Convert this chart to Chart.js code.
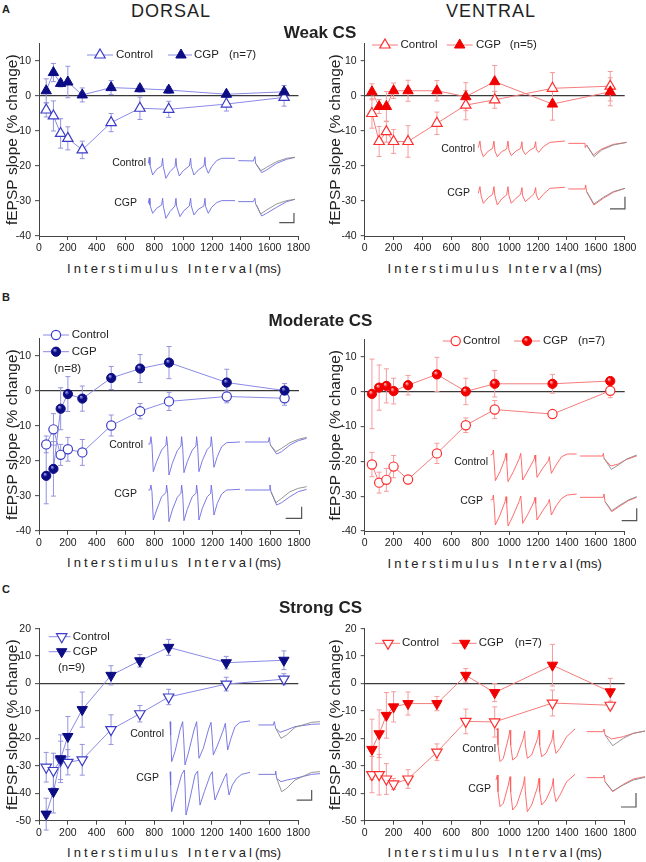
<!DOCTYPE html>
<html><head><meta charset="utf-8">
<script src="https://cdn.jsdelivr.net/npm/chart.js@4.4.1/dist/chart.umd.min.js"></script>
<style>
body{margin:0;background:#fff;width:646px;height:862px;position:relative;overflow:hidden;font-family:'Liberation Sans',Arial,sans-serif;color:#222}
canvas{position:absolute}
.t{position:absolute;white-space:nowrap;line-height:1}
.c{transform:translate(-50%,-50%)}
.r{transform:translate(-100%,-50%)}
.l{transform:translate(0,-50%)}
.ls{letter-spacing:3.1px}
</style></head><body>
<script>
// interstimulus intervals (ms) and axis ticks
const isi=[50,100,150,200,300,500,700,900,1300,1700];
const xTicks=[0,200,400,600,800,1000,1200,1400,1600,1800];
const yTicksAB=[-40,-30,-20,-10,0,10];
const yTicksC=[-50,-40,-30,-20,-10,0,10,20];

// Weak CS
const wdCtl=[-4.0,-5.7,-10.7,-12.1,-15.4,-7.6,-3.5,-3.8,-2.3,-0.4];
const wdCtlErr=[2.0,4.3,4.2,3.3,2.5,2.6,3.2,2.3,2.0,2.5];
const wdCgp=[1.5,6.7,3.6,4.0,0.3,2.4,2.1,1.7,0.5,1.2];
const wdCgpErr=[3.4,2.6,1.0,4.5,2.0,2.0,1.0,1.0,0.7,1.8];
const wvCtl=[-5.0,-13.0,-10.2,-13.0,-13.0,-7.8,-2.6,-1.1,2.2,2.8];
const wvCtlErr=[4.2,4.3,3.0,3.4,4.5,3.2,4.2,2.4,4.5,4.2];
const wvCgp=[1.2,-3.0,-3.0,1.5,1.5,1.5,-0.2,4.1,-2.3,1.2];
const wvCgpErr=[2.3,2.0,4.3,2.2,3.0,2.9,4.0,4.6,4.6,4.0];

// Moderate CS
const mdCtl=[-15.3,-11.0,-18.3,-16.7,-17.6,-9.9,-5.8,-3.0,-1.6,-2.1];
const mdCtlErr=[2.4,4.5,3.0,3.4,3.7,3.0,2.2,2.6,1.8,2.0];
const mdCgp=[-24.3,-22.3,-5.1,-0.9,-2.2,3.7,6.4,8.1,2.4,0.1];
const mdCgpErr=[8.0,7.8,6.0,5.0,3.6,3.3,4.0,4.6,3.8,2.0];
const mvCtl=[-20.9,-26.1,-25.3,-21.5,-25.2,-17.7,-9.6,-5.1,-6.4,0.3];
const mvCtlErr=[3.5,3.0,3.3,3.2,1.0,2.9,2.1,2.6,1.0,2.0];
const mvCgp=[-0.6,1.2,1.7,0.2,1.9,5.0,0.1,2.3,2.3,3.1];
const mvCgpErr=[10.0,6.5,4.9,3.7,2.8,4.9,3.8,3.8,2.7,1.0];

// Strong CS
const sdCtl=[-30.5,-31.7,-28.0,-28.7,-27.8,-16.8,-11.0,-4.9,-0.2,1.6];
const sdCtlErr=[5.4,6.3,7.0,4.6,5.6,5.4,3.0,2.8,2.5,2.0];
const sdCgp=[-47.6,-39.4,-27.4,-19.3,-9.5,3.0,8.3,13.2,7.6,8.5];
const sdCgpErr=[5.8,7.8,8.7,7.3,6.4,3.5,2.3,2.9,2.3,3.4];
const svCtl=[-33.2,-33.2,-34.8,-36.6,-34.8,-25.0,-13.8,-14.0,-7.1,-7.9];
const svCtlErr=[6.6,7.4,5.6,2.0,3.4,3.0,4.5,5.5,4.7,1.5];
const svCgp=[-24.0,-18.3,-11.6,-8.5,-7.3,-7.3,3.0,-3.3,6.7,-3.0];
const svCgpErr=[11.0,8.7,8.3,5.5,4.2,2.6,2.5,3.3,7.6,4.9];

// example field potential traces (t, v relative to trace start/baseline, arbitrary units)
const wdTrCtl={train:{t:[0,3,5,13,25,40,43,45,53,65,80,83,85,93,105,123,127,129,137,150,167,170,172,180,190,205,220,260],v:[0,18,-5,-35,-18,-8,15,-10,-45,-25,-10,15,-10,-38,-22,-8,15,-10,-35,-20,-8,18,-10,-30,-10,8,15,15]},
 probe:{t:[270,315,320,322,340,355,385,415,440],v:[8,7,20,0,-28,-20,0,12,18]},grey:{t:[322,338,355,385,415,440],v:[0,-22,-12,5,15,18]}};
const wdTrCgp={train:{t:[0,3,5,13,25,40,43,45,53,65,80,83,85,95,107,123,127,129,137,150,167,170,172,180,190,205,220,260],v:[0,15,-5,-30,-15,-5,15,-8,-45,-25,-8,15,-8,-40,-22,-8,15,-8,-35,-18,-8,15,-10,-30,-12,2,8,8]},
 probe:{t:[270,315,320,322,340,355,385,415,440],v:[5,5,15,-2,-38,-30,-12,5,12]},grey:{t:[325,337,355,385,415,440],v:[-5,-32,-20,-2,8,12]}};
const wdBar={t:[393,437,437],v:[-58,-58,-29]};

const mdTrCtl={train:{t:[0,5,8,11,15,25,40,53,55,58,62,72,87,98,100,103,107,117,132,143,145,148,152,162,177,187,189,192,197,207,220,235,275],v:[0,0,22,-3,-83,-53,-18,-3,22,-8,-93,-58,-20,-6,22,-8,-86,-53,-18,-6,22,-8,-83,-50,-16,-6,22,-8,-70,-38,-8,4,6]},
 probe:{t:[290,360,363,366,385,400,425,450,475],v:[6,6,20,-3,-30,-23,-3,10,17]},grey:{t:[366,383,400,425,450,475],v:[-3,-23,-13,4,14,20]}};
const mdTrCgp={train:{t:[0,5,8,11,15,25,40,53,55,58,62,72,87,98,100,103,107,117,132,143,145,148,152,162,177,187,189,192,197,207,220,235,275],v:[0,0,15,-5,-90,-60,-20,-8,15,-10,-95,-60,-22,-10,15,-10,-92,-58,-20,-10,15,-12,-90,-55,-20,-10,15,-12,-75,-40,-12,0,2]},
 probe:{t:[290,363,365,368,385,400,425,450,475],v:[0,0,15,-5,-45,-38,-20,-5,2]},grey:{t:[368,383,400,425,450,475],v:[-5,-38,-25,-5,5,10]}};
const mdBar={t:[412,460,460],v:[-85,-85,-50]};

const sdTrCtl={train:{t:[0,2,5,15,30,38,41,45,55,72,80,83,87,100,115,123,126,130,143,160,166,169,173,183,195,210,240],v:[5,-35,-115,-85,-20,5,-45,-125,-90,-20,5,-40,-105,-75,-20,3,-35,-95,-65,-20,0,-35,-80,-45,-10,3,7]},
 probe:{t:[265,310,313,317,330,350,375,425,450],v:[-5,-5,5,-15,-27,-20,-10,-3,-2]},grey:{t:[317,333,350,375,425,450],v:[-15,-45,-35,-12,3,5]}};
const sdTrCgp={train:{t:[0,2,5,15,35,43,45,48,60,75,83,85,90,103,120,127,129,135,147,163,170,172,177,187,200,215,240],v:[0,-40,-120,-80,-8,5,-40,-130,-80,-10,2,-35,-100,-60,-12,0,-35,-85,-55,-18,-5,-35,-70,-40,-20,-8,-2]},
 probe:{t:[265,315,317,320,333,350,375,425,450],v:[-8,-8,2,-20,-30,-25,-20,-8,-6]},grey:{t:[320,335,350,375,425,450],v:[-20,-60,-50,-25,-2,0]}};
const sdBar={t:[380,425,425],v:[-85,-85,-55]};

const wvTrCtl={train:{t:[0,5,8,15,30,43,47,50,57,70,85,89,92,99,113,127,131,133,141,155,168,172,174,181,195,215,260],v:[-3,17,-10,-30,-13,-5,17,-13,-30,-15,-7,17,-10,-27,-13,-5,15,-10,-23,-10,-3,15,-7,-17,0,13,17]},
 probe:{t:[270,320,321,325,345,370,405,445],v:[10,10,-3,5,-25,-7,7,13]},grey:{t:[325,347,370,405,445],v:[5,-30,-10,5,13]}};
const wvTrCgp={train:{t:[0,5,8,15,30,43,47,50,57,70,85,89,92,99,113,127,131,133,141,155,168,172,174,181,195,215,260],v:[0,20,-5,-30,-13,-3,20,-7,-35,-17,-5,20,-7,-30,-15,-3,17,-7,-25,-13,0,17,-5,-20,-3,15,18]},
 probe:{t:[270,320,322,325,347,375,405,440],v:[13,13,25,5,-35,-15,3,15]},grey:{t:[325,347,375,405,440],v:[5,-32,-12,5,15]}};
const wvBar={t:[395,440,440],v:[-47,-47,-10]};

const mvTrCtl={train:{t:[0,6,8,10,14,28,43,46,48,52,68,86,90,92,96,113,130,133,135,139,156,173,176,178,182,196,213,230,258],v:[0,3,15,-15,-77,-50,-10,5,-17,-80,-50,-10,5,-17,-75,-45,-13,0,-20,-67,-40,-17,-5,-25,-55,-30,-5,3,3]},
 probe:{t:[268,336,338,340,360,383,408,438],v:[-3,-3,5,-10,-33,-27,-13,-3]},grey:{t:[340,362,383,408,438],v:[-10,-43,-30,-12,0]}};
const mvTrCgp={train:{t:[0,6,8,10,14,28,43,46,48,52,68,86,90,92,96,113,130,133,135,139,156,173,176,178,182,196,213,230,258],v:[0,2,15,-10,-75,-45,-5,10,-10,-78,-45,-2,12,-8,-70,-40,-5,8,-10,-60,-32,-8,2,-12,-45,-18,5,15,18]},
 probe:{t:[268,338,340,343,363,388,413,438],v:[8,8,18,-5,-35,-18,-2,8]},grey:{t:[343,363,388,413,438],v:[-5,-32,-15,0,10]}};
const mvBar={t:[393,438,438],v:[-62,-62,-25]};

const svTrCtl={train:{t:[0,4,6,12,22,37,42,44,50,62,82,86,88,94,107,125,129,131,137,150,168,172,174,180,192,212,237],v:[0,5,-45,-95,-85,-25,0,-45,-90,-80,-25,-3,-45,-85,-75,-25,0,-45,-80,-70,-30,0,-40,-70,-55,-20,3]},
 probe:{t:[272,322,324,327,347,382,412,447],v:[-5,-5,3,-15,-27,-20,-10,-3]},grey:{t:[327,350,382,412,447],v:[-15,-47,-25,-10,-3]}};
const svTrCgp={train:{t:[0,4,6,12,22,37,42,44,50,62,82,86,88,94,107,125,129,131,137,150,168,172,174,180,192,212,237],v:[0,15,-35,-80,-70,-15,10,-35,-90,-75,-15,10,-35,-95,-75,-20,5,-35,-75,-60,-20,5,-35,-65,-45,-5,17]},
 probe:{t:[272,322,324,327,350,382,412,447],v:[7,7,15,-5,-35,-13,3,10]},grey:{t:[327,350,382,412,447],v:[-5,-33,-15,0,8]}};
const svBar={t:[375,420,420],v:[-81,-81,-39]};

const dorsalStyle={line:'#8a8ae6',ctl:'#3c3cc6',cgp:'#0c0c84',light:'#b4b4ff',err:'#9494de',trace:'#6c6ce0'};
const ventralStyle={line:'#f47c7c',ctl:'#ff2e2e',cgp:'#f20000',light:'#ffdada',err:'#f59c9c',trace:'#ff5c5c'};

const panels=[
 {side:'d',shape:'up',left:0,top:30,w:323,h:228,ct:43.5,cb:236,cl:39,cr:298.5,ymin:-40,ymax:15,yt:yTicksAB,
  ctl:wdCtl,ctlErr:wdCtlErr,cgp:wdCgp,cgpErr:wdCgpErr,
  tr:{ox:148.3,oyC:163.3,oyG:203.3,ctl:wdTrCtl,cgp:wdTrCgp,bar:wdBar},
  leg:[{ds:0,x:100,y:55,tx:116,text:'Control'},{ds:1,x:181,y:55,tx:194,text:'CGP'}],notes:[{x:229,y:55,text:'(n=7)'}],
  lab:[{x:146,y:161.7,text:'Control'},{x:137,y:201.7,text:'CGP'}]},
 {side:'v',shape:'up',left:323,top:30,w:323,h:228,ct:43.5,cb:236,cl:364.7,cr:624.7,ymin:-40,ymax:15,yt:yTicksAB,
  ctl:wvCtl,ctlErr:wvCtlErr,cgp:wvCgp,cgpErr:wvCgpErr,
  tr:{ox:478.3,oyC:146.7,oyG:193.3,ctl:wvTrCtl,cgp:wvTrCgp,bar:wvBar},
  leg:[{ds:0,x:385,y:45,tx:400.5,text:'Control'},{ds:1,x:459.7,y:45,tx:476,text:'CGP'}],notes:[{x:509.7,y:45,text:'(n=5)'}],
  lab:[{x:475,y:147.7,text:'Control'},{x:470,y:191.7,text:'CGP'}]},
 {side:'d',shape:'ball',left:0,top:322,w:323,h:230,ct:338.5,cb:530.7,cl:39,cr:299,ymin:-40,ymax:15,yt:yTicksAB,
  ctl:mdCtl,ctlErr:mdCtlErr,cgp:mdCgp,cgpErr:mdCgpErr,
  tr:{ox:148.3,oyC:444,oyG:490,ctl:mdTrCtl,cgp:mdTrCgp,bar:mdBar},
  leg:[{ds:0,x:56,y:335,tx:71.7,text:'Control'},{ds:1,x:56,y:351.7,tx:71.7,text:'CGP'}],notes:[{x:54,y:369,text:'(n=8)'}],
  lab:[{x:143,y:444.3,text:'Control'},{x:137,y:493.3,text:'CGP'}]},
 {side:'v',shape:'ball',left:323,top:322,w:323,h:230,ct:339.6,cb:531,cl:364.7,cr:624.7,ymin:-40,ymax:15,yt:yTicksAB,
  ctl:mvCtl,ctlErr:mvCtlErr,cgp:mvCgp,cgpErr:mvCgpErr,
  tr:{ox:490.7,oyC:455,oyG:500,ctl:mvTrCtl,cgp:mvTrCgp,bar:mvBar},
  leg:[{ds:0,x:455.7,y:341,tx:463,text:'Control'},{ds:1,x:527,y:341,tx:543,text:'CGP'}],notes:[{x:578,y:341,text:'(n=7)'}],
  lab:[{x:488,y:461,text:'Control'},{x:483,y:500,text:'CGP'}]},
 {side:'d',shape:'down',left:0,top:612,w:323,h:230,ct:628.7,cb:820.7,cl:39,cr:298.3,ymin:-50,ymax:20,yt:yTicksC,
  ctl:sdCtl,ctlErr:sdCtlErr,cgp:sdCgp,cgpErr:sdCgpErr,
  tr:{ox:170,oyC:723.3,oyG:771.7,ctl:sdTrCtl,cgp:sdTrCgp,bar:sdBar},
  leg:[{ds:0,x:61.7,y:636.7,tx:72.7,text:'Control'},{ds:1,x:61.7,y:651.7,tx:72.7,text:'CGP'}],notes:[{x:58,y:668,text:'(n=9)'}],
  lab:[{x:164,y:733.3,text:'Control'},{x:159,y:776.7,text:'CGP'}]},
 {side:'v',shape:'down',left:323,top:612,w:323,h:230,ct:628.7,cb:820.7,cl:364.7,cr:624.7,ymin:-50,ymax:20,yt:yTicksC,
  ctl:svCtl,ctlErr:svCtlErr,cgp:svCgp,cgpErr:svCgpErr,
  tr:{ox:496,oyC:730,oyG:780,ctl:svTrCtl,cgp:svTrCgp,bar:svBar},
  leg:[{ds:0,x:388,y:643.3,tx:402,text:'Control'},{ds:1,x:464.7,y:643.3,tx:478.7,text:'CGP'}],notes:[{x:514.7,y:643.3,text:'(n=7)'}],
  lab:[{x:496,y:748.3,text:'Control'},{x:491,y:788.3,text:'CGP'}]}
];

const FONT="'Liberation Sans', Arial, sans-serif";

function ball(ctx,x,y,r,base,light){
  const g=ctx.createRadialGradient(x-r*0.35,y-r*0.45,0,x,y,r*1.05);
  g.addColorStop(0,light);g.addColorStop(0.45,base);g.addColorStop(1,base);
  return g;
}
function pts(xs,ys){return xs.map((x,i)=>({x:x,y:ys[i]}));}

function drawMark(ctx,ds,x,y){
  const r=ds.pointRadius,rot=(ds.pointRotation||0)*Math.PI/180;
  let fill=ds.pointBackgroundColor;
  if(typeof fill==='function') fill=ball(ctx,x,y,r,ds.pointBorderColor,ds.lightColor);
  ctx.fillStyle=fill;ctx.strokeStyle=ds.pointBorderColor;ctx.lineWidth=ds.pointBorderWidth;
  ctx.beginPath();
  if(ds.pointStyle==='circle'){ctx.arc(x,y,r,0,Math.PI*2);}
  else{
    let a=rot;ctx.moveTo(x+Math.sin(a)*r,y-Math.cos(a)*r);
    a+=2*Math.PI/3;ctx.lineTo(x+Math.sin(a)*r,y-Math.cos(a)*r);
    a+=2*Math.PI/3;ctx.lineTo(x+Math.sin(a)*r,y-Math.cos(a)*r);
    ctx.closePath();
  }
  ctx.fill();ctx.stroke();
}

const errorBars={id:'errorBars',beforeDatasetsDraw(chart){
  const ctx=chart.ctx;
  chart.data.datasets.forEach((ds,i)=>{
    if(!ds.err) return;
    const meta=chart.getDatasetMeta(i),ys=meta.yScale;
    ctx.save();ctx.strokeStyle=ds.errColor;ctx.lineWidth=1;
    meta.data.forEach((pt,j)=>{
      const v=ds.data[j].y,e=ds.err[j];
      const y1=ys.getPixelForValue(v+e),y2=ys.getPixelForValue(v-e);
      ctx.beginPath();
      ctx.moveTo(pt.x,y1);ctx.lineTo(pt.x,y2);
      ctx.moveTo(pt.x-2.5,y1);ctx.lineTo(pt.x+2.5,y1);
      ctx.moveTo(pt.x-2.5,y2);ctx.lineTo(pt.x+2.5,y2);
      ctx.stroke();
    });
    ctx.restore();
  });
}};

const miniLegend={id:'miniLegend',afterDatasetsDraw(chart,args,opts){
  const ctx=chart.ctx,ox=opts.ox,oy=opts.oy;
  ctx.save();
  (opts.items||[]).forEach(it=>{
    const ds=chart.data.datasets[it.ds];
    const x=it.x-ox,y=it.y-oy,tx=it.tx-ox;
    ctx.strokeStyle=ds.borderColor;ctx.lineWidth=1;
    ctx.beginPath();ctx.moveTo(x-13,y);ctx.lineTo(Math.min(x+13,tx-2),y);ctx.stroke();
    drawMark(ctx,ds,x,y);
    ctx.fillStyle='#222';ctx.font='11.5px '+FONT;ctx.textBaseline='middle';ctx.textAlign='left';
    ctx.fillText(it.text,tx,y);
  });
  (opts.notes||[]).forEach(n=>{
    ctx.fillStyle='#222';ctx.font='11.5px '+FONT;ctx.textBaseline='middle';ctx.textAlign='left';
    ctx.fillText(n.text,n.x-ox,n.y-oy);
  });
  ctx.restore();
}};

// hidden scale whose range is fixed after the data limits, so that no point is dropped as "outside"
function hiddenScale(axis,lo,hi){
  return {type:'linear',axis:axis,position:axis==='x'?'bottom':'left',display:false,bounds:'data',
    afterDataLimits:s=>{s.min=lo;s.max=hi;}};
}

function makePanel(p){
  const st=p.side==='d'?dorsalStyle:ventralStyle;
  const cv=document.createElement('canvas');
  cv.width=p.w;cv.height=p.h;cv.style.left=p.left+'px';cv.style.top=p.top+'px';
  document.body.appendChild(cv);
  const ps=p.shape==='ball'?'circle':'triangle';
  const rad=p.shape==='ball'?4.6:6;
  const rot=p.shape==='down'?180:0;
  const cgpFill=p.shape==='ball'?function(c){
    if(c.type!=='data'||!c.parsed) return st.cgp;
    const ch=c.chart,x=ch.scales.x.getPixelForValue(c.parsed.x),y=ch.scales.y.getPixelForValue(c.parsed.y);
    if(!isFinite(x)||!isFinite(y)) return st.cgp;
    return ball(ch.ctx,x,y,rad,st.cgp,st.light);
  }:st.cgp;
  const series=(vals,err,isCgp)=>({data:pts(isi,vals),err:err,errColor:st.err,borderColor:st.line,borderWidth:1,
    pointStyle:ps,pointRotation:rot,pointRadius:rad,pointBorderWidth:isCgp?1:1.2,
    pointBorderColor:isCgp?st.cgp:st.ctl,pointBackgroundColor:isCgp?cgpFill:'#fff',lightColor:st.light,order:isCgp?0:1});
  const tr=(d,yid,color,w)=>({data:pts(d.t,d.v),xAxisID:'tx',yAxisID:yid,borderColor:color,borderWidth:w||0.9,
    pointRadius:0,clip:false,order:2,tension:0});
  const T=p.tr;
  const datasets=[
    series(p.ctl,p.ctlErr,false),series(p.cgp,p.cgpErr,true),
    tr(T.ctl.grey,'ty1','#8a8a8a'),tr(T.ctl.train,'ty1',st.trace),tr(T.ctl.probe,'ty1',st.trace),
    tr(T.cgp.grey,'ty2','#8a8a8a'),tr(T.cgp.train,'ty2',st.trace),tr(T.cgp.probe,'ty2',st.trace),
    tr(T.bar,'ty2','#555',1.2)
  ];
  const tickFont={family:FONT,size:10.5};
  new Chart(cv,{type:'line',data:{datasets},
    options:{responsive:false,animation:false,events:[],
      layout:{padding:{top:p.ct-p.top,right:p.left+p.w-p.cr,left:0,bottom:0}},
      scales:{
        x:{type:'linear',min:0,max:1800,
          afterFit:s=>{s.height=p.top+p.h-p.cb;},
          afterBuildTicks:s=>{s.ticks=xTicks.map(v=>({value:v}));},
          grid:{color:'rgba(0,0,0,0)',drawTicks:true,tickLength:4,tickColor:'#444',tickWidth:1},
          border:{display:true,color:'#444',width:1},
          ticks:{autoSkip:false,maxRotation:0,color:'#222',font:tickFont,padding:2,callback:v=>String(v)}},
        y:{type:'linear',min:p.ymin,max:p.ymax,
          afterFit:s=>{s.width=p.cl-p.left;},
          afterBuildTicks:s=>{s.ticks=p.yt.map(v=>({value:v}));},
          grid:{color:c=>(c.tick&&c.tick.value===0)?'#3a3a3a':'rgba(0,0,0,0)',lineWidth:1.3,drawTicks:true,tickLength:4,tickColor:'#444',tickWidth:1},
          border:{display:true,color:'#444',width:1},
          ticks:{color:'#222',font:tickFont,padding:4,callback:v=>String(v)},
          title:{display:true,text:'fEPSP slope (% change)',color:'#222',font:{family:FONT,size:15.5},padding:{top:3,bottom:0}}},
        tx:hiddenScale('x',(p.cl-T.ox)*3,(p.cr-T.ox)*3),
        ty1:hiddenScale('y',(T.oyC-p.cb)*3,(T.oyC-p.ct)*3),
        ty2:hiddenScale('y',(T.oyG-p.cb)*3,(T.oyG-p.ct)*3)
      },
      plugins:{legend:{display:false},tooltip:{enabled:false},
        miniLegend:{ox:p.left,oy:p.top,items:p.leg,notes:p.notes}}
    },
    plugins:[errorBars,miniLegend]});
  p.lab.forEach(l=>label(l.text,l.x,l.y,'r','font-size:10.5px'));
  const xc=p.side==='d'?174:494.7;
  const d=document.createElement('div');
  d.className='t c';d.style.left=xc+'px';d.style.top=(p.cb+31.5)+'px';d.style.fontSize='13px';
  d.innerHTML='<span class="ls">Interstimulus Interval</span>(ms)';
  document.body.appendChild(d);
}

function label(text,x,y,cls,style){
  const d=document.createElement('div');
  d.className='t '+cls;d.textContent=text;
  d.style.cssText+=';left:'+x+'px;top:'+y+'px;'+(style||'');
  document.body.appendChild(d);
}

panels.forEach(makePanel);

label('DORSAL',171,11,'c','font-size:18px;letter-spacing:1px');
label('VENTRAL',491,11,'c','font-size:18px;letter-spacing:1px');
label('A',2,8.5,'l','font-size:11px;font-weight:bold');
label('B',2,297,'l','font-size:11px;font-weight:bold');
label('C',2,589,'l','font-size:11px;font-weight:bold');
label('Weak CS',320,32,'c','font-size:17px;font-weight:bold');
label('Moderate CS',320.5,320,'c','font-size:17px;font-weight:bold');
label('Strong CS',320.5,606.7,'c','font-size:17px;font-weight:bold');
</script>
</body></html>
